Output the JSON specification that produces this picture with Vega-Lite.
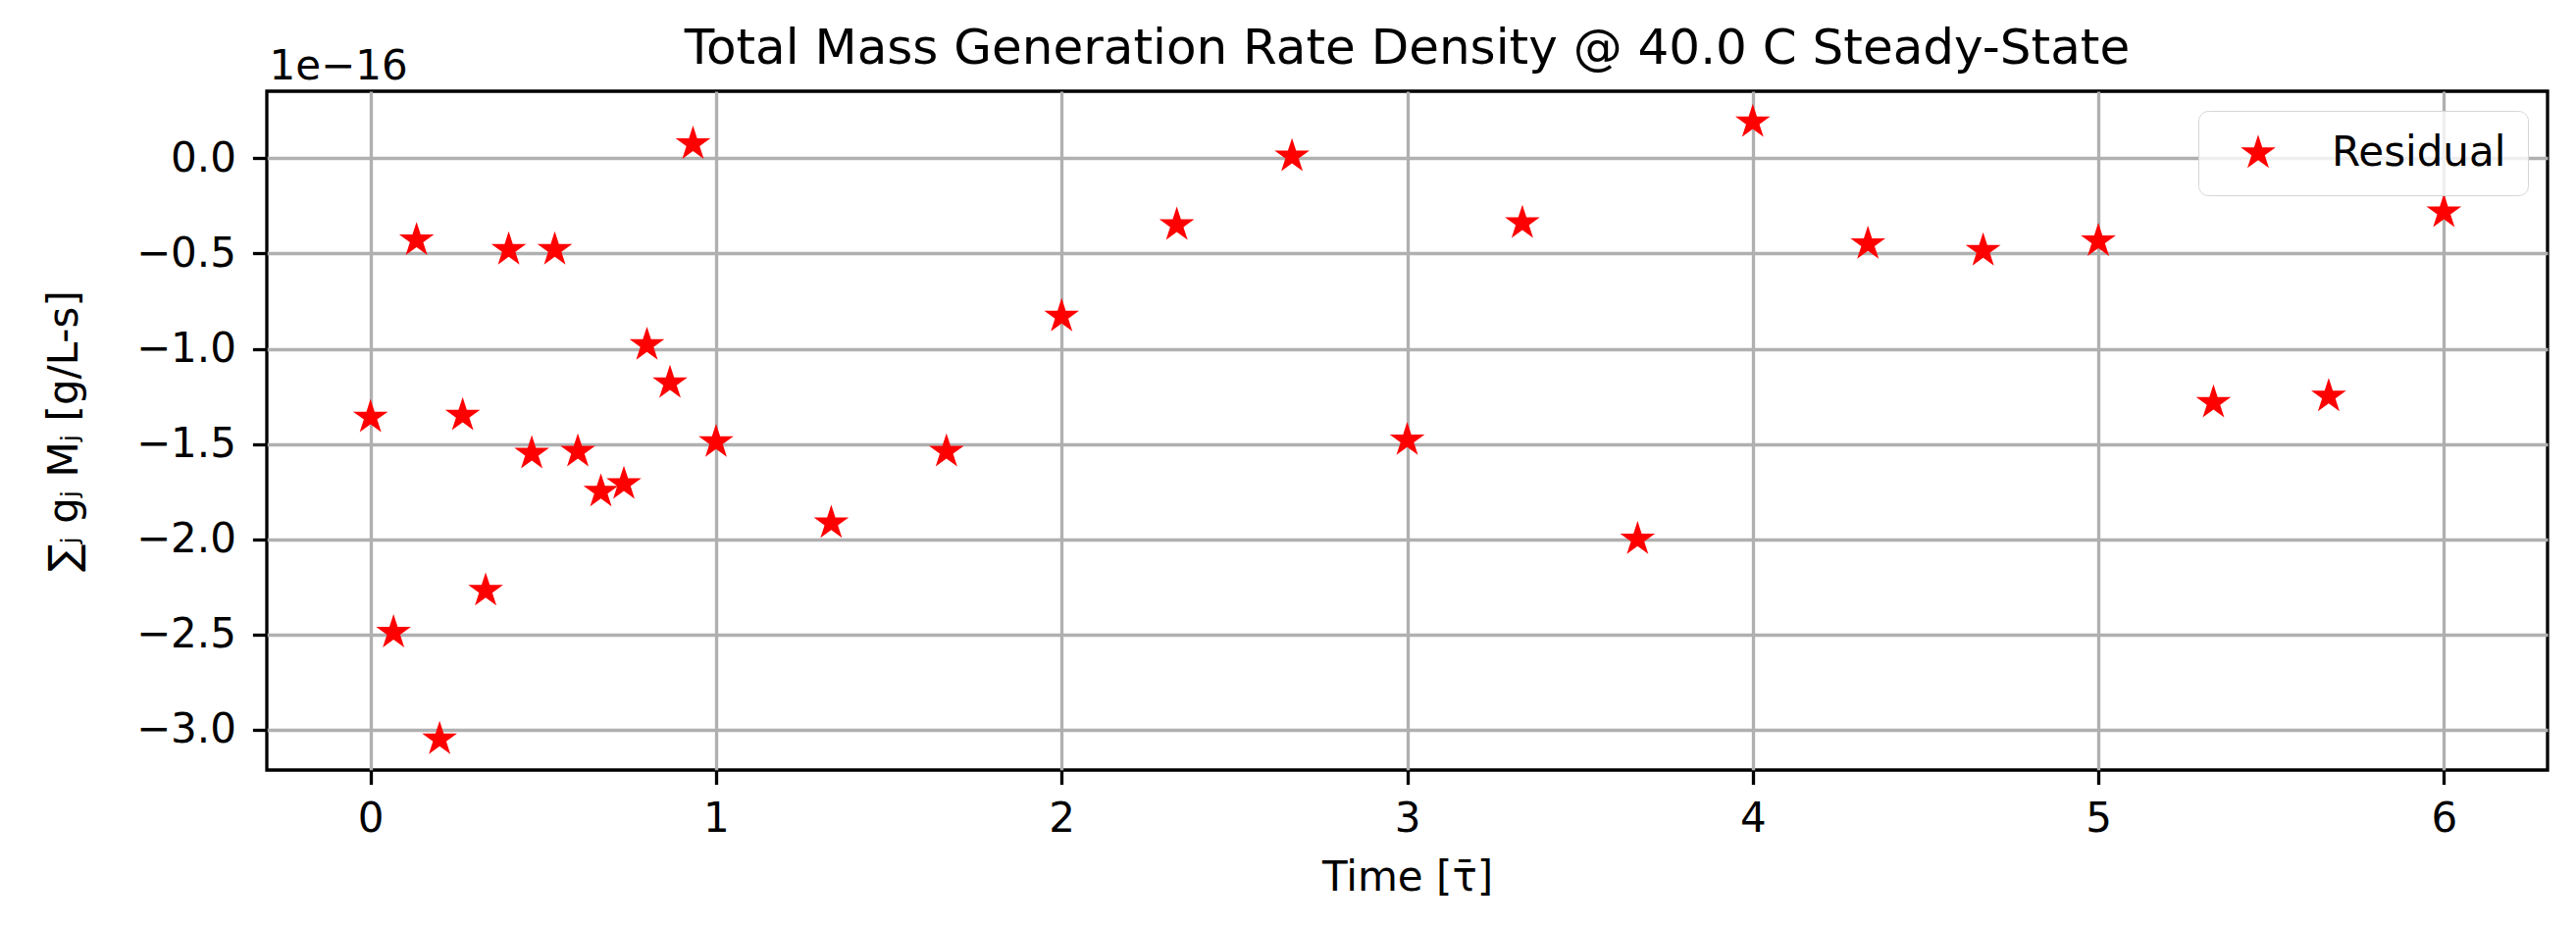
{
  "$schema": "https://vega.github.io/schema/vega-lite/v6.json",
  "width": 2325,
  "height": 692,
  "autosize": {"type": "none"},
  "padding": {"left": 272, "top": 93, "right": 29, "bottom": 160},
  "background": "white",
  "config": {
    "font": "DejaVu Sans",
    "view": {"stroke": "black", "strokeWidth": 3.3},
    "axis": {
      "domain": false,
      "tickColor": "black",
      "tickWidth": 3.3,
      "tickSize": 14.6,
      "labelFont": "DejaVu Sans",
      "labelFontSize": 42,
      "labelColor": "black",
      "labelFlush": false,
      "labelOverlap": false,
      "titleFont": "DejaVu Sans",
      "titleFontSize": 42,
      "titleFontWeight": "normal",
      "titleColor": "black",
      "gridColor": "#b0b0b0",
      "gridWidth": 3.3,
      "gridOpacity": 1
    }
  },
  "title": {
    "text": "Total Mass Generation Rate Density @ 40.0 C Steady-State",
    "font": "DejaVu Sans",
    "fontSize": 50,
    "fontWeight": "normal",
    "color": "black",
    "anchor": "middle",
    "baseline": "alphabetic",
    "offset": -69
  },
  "data": {
    "values": [
      {"t": 0, "r": -1.36e-16},
      {"t": 0.0667, "r": -2.49e-16},
      {"t": 0.1333, "r": -0.43e-16},
      {"t": 0.2, "r": -3.05e-16},
      {"t": 0.2667, "r": -1.35e-16},
      {"t": 0.3333, "r": -2.27e-16},
      {"t": 0.4, "r": -0.48e-16},
      {"t": 0.4667, "r": -1.55e-16},
      {"t": 0.5333, "r": -0.48e-16},
      {"t": 0.6, "r": -1.54e-16},
      {"t": 0.6667, "r": -1.75e-16},
      {"t": 0.7333, "r": -1.71e-16},
      {"t": 0.8, "r": -0.98e-16},
      {"t": 0.8667, "r": -1.18e-16},
      {"t": 0.9333, "r": 0.075e-16},
      {"t": 1, "r": -1.49e-16},
      {"t": 1.3333, "r": -1.915e-16},
      {"t": 1.6667, "r": -1.54e-16},
      {"t": 2, "r": -0.83e-16},
      {"t": 2.3333, "r": -0.35e-16},
      {"t": 2.6667, "r": 0.01e-16},
      {"t": 3, "r": -1.48e-16},
      {"t": 3.3333, "r": -0.34e-16},
      {"t": 3.6667, "r": -2.0e-16},
      {"t": 4, "r": 0.19e-16},
      {"t": 4.3333, "r": -0.45e-16},
      {"t": 4.6667, "r": -0.485e-16},
      {"t": 5, "r": -0.435e-16},
      {"t": 5.3333, "r": -1.283e-16},
      {"t": 5.6667, "r": -1.25e-16},
      {"t": 6, "r": -0.283e-16}
    ]
  },
  "encoding": {
    "x": {
      "field": "t",
      "type": "quantitative",
      "scale": {"domain": [-0.3, 6.3], "nice": false, "zero": false},
      "axis": {
        "title": "Time [τ̄]",
        "values": [0, 1, 2, 3, 4, 5, 6],
        "format": "d",
        "labelPadding": 15,
        "titleY": 122,
        "titleBaseline": "alphabetic"
      }
    }
  },
  "layer": [
    {
      "mark": {
        "type": "point",
        "shape": "M0,-1L0.2245,-0.309L0.9511,-0.309L0.3633,0.118L0.5878,0.809L0,0.382L-0.5878,0.809L-0.3633,0.118L-0.9511,-0.309L-0.2245,-0.309Z",
        "filled": true,
        "size": 1400,
        "opacity": 1,
        "strokeWidth": 0
      },
      "encoding": {
        "y": {
          "field": "r",
          "type": "quantitative",
          "scale": {"domain": [-3.212e-16, 0.352e-16], "nice": false, "zero": false},
          "axis": {
            "title": "∑ⱼ gⱼ Mⱼ [g/L-s]",
            "values": [-3e-16, -2.5e-16, -2e-16, -1.5e-16, -1e-16, -0.5e-16, 0],
            "labelExpr": "format(datum.value * 1e16, '.1f')",
            "labelPadding": 17,
            "titleAngle": -90,
            "titleX": -194,
            "titleY": 346,
            "titleAlign": "center",
            "titleBaseline": "alphabetic"
          }
        },
        "color": {
          "datum": "Residual",
          "type": "nominal",
          "scale": {"range": ["#ff0000"]},
          "legend": {
            "title": null,
            "orient": "top-right",
            "offset": 20,
            "padding": 22,
            "labelFont": "DejaVu Sans",
            "labelFontSize": 42,
            "labelColor": "black",
            "labelLimit": 500,
            "symbolType": "M0,-1L0.2245,-0.309L0.9511,-0.309L0.3633,0.118L0.5878,0.809L0,0.382L-0.5878,0.809L-0.3633,0.118L-0.9511,-0.309L-0.2245,-0.309Z",
            "symbolSize": 1400,
            "symbolStrokeWidth": 0,
            "symbolOffset": 18,
            "labelOffset": 54,
            "strokeColor": "#d6d6d6",
            "cornerRadius": 10,
            "fillColor": "rgba(255,255,255,0.8)",
            "encode": {"legend": {"update": {"strokeWidth": {"value": 3.3}}}}
          }
        }
      }
    },
    {
      "mark": {"type": "point", "opacity": 0},
      "encoding": {
        "y": {
          "field": "r",
          "type": "quantitative",
          "axis": {
            "title": "1e−16",
            "orient": "left",
            "labels": false,
            "ticks": false,
            "domain": false,
            "grid": false,
            "titleAngle": 0,
            "titleX": 2,
            "titleY": -13,
            "titleAlign": "left",
            "titleBaseline": "alphabetic",
            "titleFontSize": 42,
            "titleFontWeight": "normal"
          }
        }
      }
    }
  ],
  "resolve": {"axis": {"y": "independent"}}
}
